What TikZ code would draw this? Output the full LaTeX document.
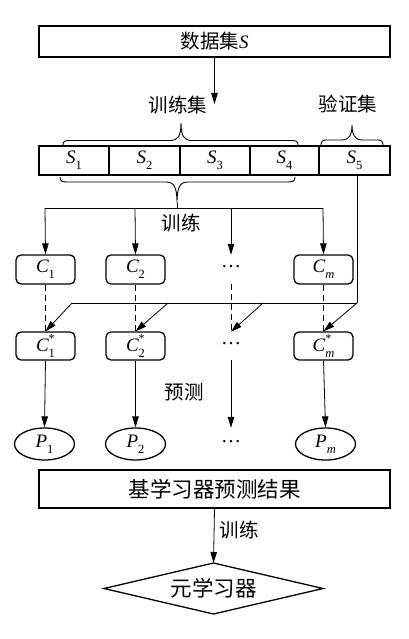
\documentclass[tikz,border=0pt]{standalone}
\usepackage{fontspec}
\newfontfamily\cjk{Noto Sans CJK SC}
\newfontfamily\tms{Liberation Serif}
\usetikzlibrary{arrows.meta,shapes.geometric}
% italic letter with subscript and optional superscript
\newcommand\symb[3]{{\fontsize{19}{21}\selectfont\tms\itshape #1}%
  \makebox[0pt][l]{\raisebox{0.5em}{\fontsize{12}{12}\selectfont\tms #3}}%
  \raisebox{-0.3em}{\fontsize{12.5}{13}\selectfont\tms #2}}
\newcommand\hdots{\raisebox{0.28em}{\fontsize{20}{20}\selectfont\tms …}}
\begin{document}
\begin{tikzpicture}[x=1pt,y=-1pt,
  every node/.style={font=\fontsize{19.5}{22}\selectfont\cjk, inner sep=0pt},
  bigfont/.style={font=\fontsize{21.5}{24}\selectfont\cjk},
  bigbox/.style={draw, line width=1.4pt, minimum width=351pt},
  cell/.style={draw, line width=1.4pt, minimum height=29pt},
  cbox/.style={draw, line width=1.3pt, rounded corners=5pt, minimum width=59pt, minimum height=29pt},
  pell/.style={draw, line width=1.3pt, ellipse, minimum width=60pt, minimum height=32pt},
  ghost/.style={minimum width=20pt, minimum height=29pt},
  conn/.style={line width=0.8pt},
  arr/.style={line width=0.8pt, -{Triangle[length=11pt,width=6.5pt]}},
  dashline/.style={line width=0.8pt, dash pattern=on 6pt off 4pt},
  bracestyle/.style={line width=0.9pt},
  diamondline/.style={line width=1.3pt, line join=miter}
]
\useasboundingbox (0,0) rectangle (409,639);

% top data box
\node[bigbox, minimum height=31pt] (data) at (214.5,41.5) {数据集{\fontsize{19}{21}\selectfont\tms\itshape S}};
\coordinate (dtip) at (214.5,104);
\draw[arr] (data.south) -- (dtip);

\node (trainset) at (178,105) {训练集};
\node (valset) at (348,104) {验证集};

% S cells
\node[cell, minimum width=70pt] (S1) at (74,160.5) {\symb{S}{1}{}};
\node[cell, minimum width=71pt] (S2) at (144.5,160.5) {\symb{S}{2}{}};
\node[cell, minimum width=70pt] (S3) at (215,160.5) {\symb{S}{3}{}};
\node[cell, minimum width=69pt] (S4) at (284.5,160.5) {\symb{S}{4}{}};
\node[cell, minimum width=71pt] (S5) at (354.5,160.5) {\symb{S}{5}{}};

% braces
\draw[bracestyle] (63,145) .. controls (63,141) and (65,140.5) .. (70,140.5) -- (170,140.5)
  .. controls (178,140.5) and (181,136) .. (181,123)
  .. controls (181,136) and (184,140.5) .. (192,140.5) -- (291,140.5)
  .. controls (296,140.5) and (298,141) .. (298,145);
\draw[bracestyle] (321,145) .. controls (321,141) and (323,140) .. (327,140) -- (342,140)
  .. controls (349,140) and (352,135) .. (352,125)
  .. controls (352,135) and (355,140) .. (362,140) -- (377,140)
  .. controls (381,140) and (383,141) .. (383,145);
\draw[bracestyle] (60,177) .. controls (60,181) and (62,182) .. (67,182) -- (166,182)
  .. controls (174,182) and (177,187) .. (177,203)
  .. controls (177,187) and (180,182) .. (188,182) -- (288,182)
  .. controls (293,182) and (295,181) .. (295,177);

% training tree
\coordinate (btip) at (177,203);
\coordinate (j1) at (45,208);
\coordinate (j2) at (135,208);
\coordinate (j3) at (231,208);
\coordinate (j4) at (323,208);
\coordinate (jm) at (177,208);
\draw[conn] (btip) -- (jm);
\draw[conn] (j1) -- (j4);
\node (trainlab) at (181,223) {训练};

% C boxes
\node[cbox] (C1) at (45.5,269.5) {\symb{C}{1}{}};
\node[cbox] (C2) at (135.5,269.5) {\symb{C}{2}{}};
\node[ghost] (Cd) at (231,269.5) {\hdots};
\node[cbox] (Cm) at (323.5,269.5) {\symb{C}{\itshape m}{}};
\draw[arr] (j1) -- (C1.north);
\draw[arr] (j2) -- (C2.north);
\draw[arr] (j3) -- (Cd.north);
\draw[arr] (j4) -- (Cm.north);

% C* boxes
\node[cbox, minimum height=28pt] (Cs1) at (45.5,346) {\symb{C}{1}{*}};
\node[cbox, minimum height=28pt] (Cs2) at (135.5,346) {\symb{C}{2}{*}};
\node[ghost, minimum height=28pt] (Csd) at (231,346) {\hdots};
\node[cbox, minimum height=28pt] (Csm) at (323.5,346) {\symb{C}{\itshape m}{*}};
\draw[dashline] (C1.south) -- (Cs1.north);
\draw[dashline] (C2.south) -- (Cs2.north);
\draw[dashline] (Cd.south) -- (Csd.north);
\draw[dashline] (Cm.south) -- (Csm.north);

% validation feed
\coordinate (v) at (357,303);
\coordinate (h1) at (72,303);
\coordinate (h2) at (168,303);
\coordinate (h3) at (263,303);
\draw[conn] (S5.south -| v) -- (v);
\draw[conn] (h1) -- (v);
\draw[arr] (h1) -- (Cs1.north);
\draw[arr] (h2) -- (Cs2.north);
\draw[arr] (h3) -- (Csd.north);
\draw[arr] (v) -- (Csm.north);

% predictions
\node[pell] (P1) at (44.5,444) {\symb{P}{1}{}};
\node[pell] (P2) at (135.5,444) {\symb{P}{2}{}};
\node[ghost, minimum height=32pt] (Pd) at (231,444) {\hdots};
\node[pell] (Pm) at (325.5,444) {\symb{P}{\itshape m}{}};
\draw[arr] (Cs1.south) -- (P1.north);
\draw[arr] (Cs2.south) -- (P2.north);
\draw[arr] (Csd.south) -- (Pd.north);
\draw[arr] (Csm.south) -- (Pm.north);
\node (predlab) at (184,392) {预测};

% base learner results
\node[bigbox, bigfont, minimum height=38pt] (res) at (214.5,489) {基学习器预测结果};
% meta learner (diamond)
\coordinate (mtop) at (213.5,563);
\coordinate (mright) at (323,588.5);
\coordinate (mbot) at (213.5,614);
\coordinate (mleft) at (104,588.5);
\draw[diamondline] (mtop) -- (mright) -- (mbot) -- (mleft) -- cycle;
\node[bigfont] (meta) at (213.5,588.5) {元学习器};
\draw[arr] (res.south) -- (mtop);
\node (trainlab2) at (239,530) {训练};
\end{tikzpicture}
\end{document}
